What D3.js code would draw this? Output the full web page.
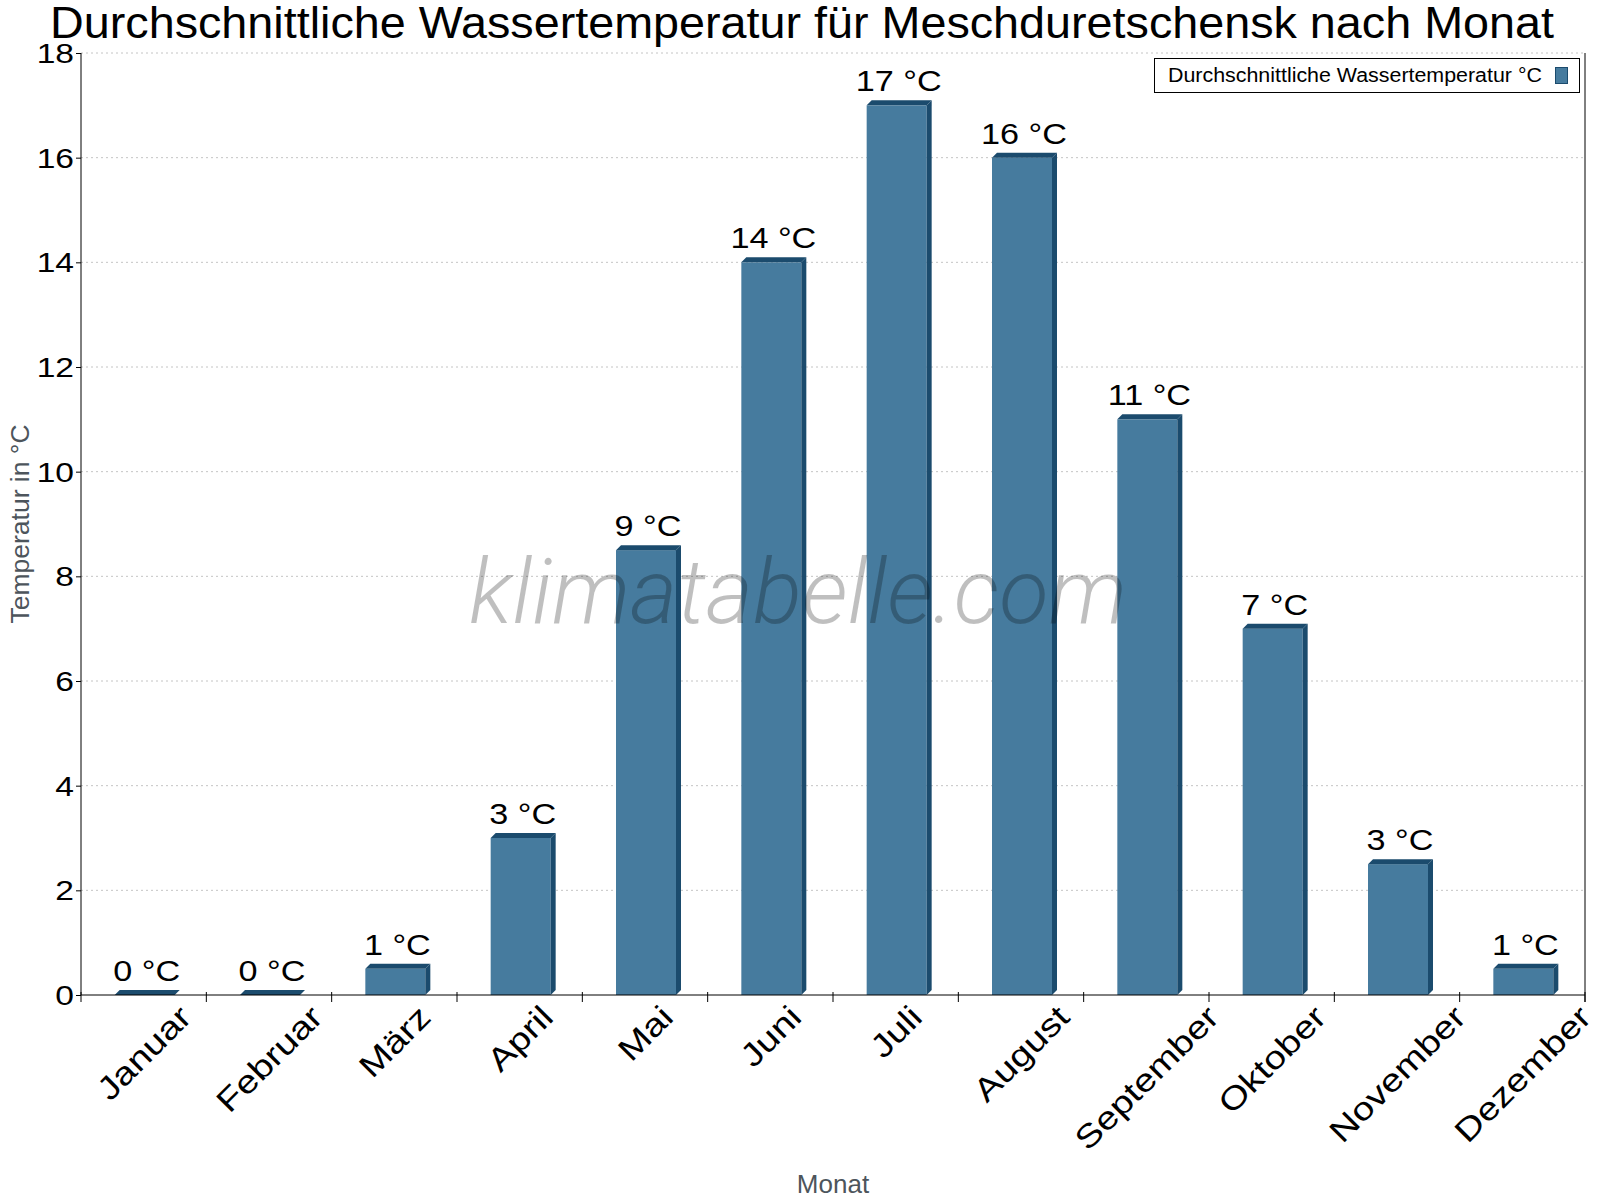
<!DOCTYPE html>
<html><head><meta charset="utf-8">
<script src="https://cdn.jsdelivr.net/npm/d3@7"></script>
<style>body{margin:0;background:#fff}</style>
</head><body>
<svg id="c" width="1600" height="1200"></svg>
<script>
const months = ["Januar","Februar","März","April","Mai","Juni","Juli","August","September","Oktober","November","Dezember"];
const waterTemp = [0, 0, 0.5, 3, 8.5, 14, 17, 16, 11, 7, 2.5, 0.5];
const yTicks = [0,2,4,6,8,10,12,14,16,18];
const titleText = "Durchschnittliche Wassertemperatur für Meschduretschensk nach Monat";
const seriesName = "Durchschnittliche Wassertemperatur °C";
const yTitle = "Temperatur in °C";
const xTitle = "Monat";
const watermark = "klimatabelle.com";

const svg = d3.select("#c");
const font = "'Liberation Sans', Arial, sans-serif";
const L = 81, R = 1585, T = 53, B = 995;
const front = "#467b9e", dark = "#1b4b6d";
const depth = 5;

const x = d3.scaleBand().domain(months).range([L, R]).paddingInner(0).paddingOuter(0);
const y = d3.scaleLinear().domain([0, 18]).range([B, T]);

// helper: text stretched horizontally around its anchor
function stext(parent, px, py, str, fs, sx, anchor, fill) {
  return parent.append("text")
    .attr("transform", `translate(${px},${py}) scale(${sx},1)`)
    .attr("text-anchor", anchor || "start")
    .attr("font-family", font).attr("font-size", fs).attr("fill", fill || "#000")
    .text(str);
}

// grid
svg.append("g").selectAll("line").data(yTicks.filter(d => d > 0)).join("line")
  .attr("x1", L).attr("x2", R).attr("y1", d => y(d)).attr("y2", d => y(d))
  .attr("stroke", "#c4c4c4").attr("stroke-dasharray", "2,3").attr("stroke-width", 1);

// bars
const bw = 60;
const data = months.map((m, i) => ({m, v: waterTemp[i]}));
const bars = svg.append("g").selectAll("g").data(data).join("g");
bars.each(function(d) {
  const g = d3.select(this);
  const cx = x(d.m) + x.bandwidth() / 2 + 1;
  const x0 = cx - bw / 2, x1 = cx + bw / 2;
  const yt = y(d.v), yb = y(0);
  if (yb - yt > 0) {
    g.append("rect").attr("x", x0).attr("y", yt).attr("width", bw).attr("height", yb - yt).attr("fill", front);
  }
  g.append("polygon").attr("points", [[x1, yb], [x1 + depth, yb - depth], [x1 + depth, yt - depth], [x1, yt]].join(" ")).attr("fill", dark);
  g.append("polygon").attr("points", [[x0, yt], [x0 + depth, yt - depth], [x1 + depth, yt - depth], [x1, yt]].join(" ")).attr("fill", dark);
});
// value labels
const vl = svg.append("g");
data.forEach(d => {
  stext(vl, x(d.m) + x.bandwidth() / 2 + 3, y(d.v) - 14, Math.round(d.v) + " °C", 30, 1.14, "middle");
});

// watermark (on top of bars)
const wm = svg.append("text").attr("x", 798).attr("y", 623).attr("text-anchor", "middle")
  .attr("font-family", "Roboto, 'Liberation Sans', sans-serif").attr("font-weight", 300)
  .attr("font-style", "italic").attr("font-size", 90)
  .attr("fill", "#000").attr("fill-opacity", 0.25).text(watermark);
const wmLen = wm.node().getComputedTextLength();
wm.attr("font-size", 90 * 658 / wmLen);

// y axis
const yAxis = d3.axisLeft(y).tickValues(yTicks).tickSize(5).tickFormat("");
const ga = svg.append("g").attr("transform", `translate(${L},0)`).call(yAxis);
ga.select(".domain").attr("stroke", "#000").attr("d", `M0,${T}V${B}`);
const yl = svg.append("g");
yTicks.forEach(t => stext(yl, 74, y(t) + 10, String(t), 28, 1.2, "end"));

svg.append("line").attr("x1", R).attr("x2", R).attr("y1", T).attr("y2", B + 7).attr("stroke", "#000");

// x axis
const xAxis = d3.axisBottom(x).tickSize(0).tickFormat("");
const gx = svg.append("g").attr("transform", `translate(0,${B})`).call(xAxis);
gx.select(".domain").attr("stroke", "#000").attr("d", `M${L},0H${R}`);
const bounds = d3.range(months.length + 1).map(i => L + i * x.bandwidth());
svg.append("g").selectAll("line").data(bounds).join("line")
  .attr("x1", d => d).attr("x2", d => d).attr("y1", B - 3).attr("y2", B + 7).attr("stroke", "#000");

// x labels: rotated -45, bounding box centred on band, top just under the axis
const xfs = 32, xsx = 1.2, capH = 0.716 * xfs;
const xl = svg.append("g");
months.forEach(m => {
  const g = xl.append("g");
  const t = g.append("text").attr("text-anchor", "middle").attr("dy", capH / 2)
    .attr("font-family", font).attr("font-size", xfs).attr("fill", "#000").text(m);
  const w = t.node().getComputedTextLength() * xsx;
  const cy = B + 8 + (w + capH) * 0.3536;
  g.attr("transform", `translate(${x(m) + x.bandwidth() / 2},${cy}) rotate(-45) scale(${xsx},1)`);
});

// axis titles
svg.append("text").attr("transform", `translate(29,${(T + B) / 2}) rotate(-90) scale(1.06,1)`).attr("text-anchor", "middle")
  .attr("font-family", font).attr("font-size", 25).attr("fill", "#4d555c").text(yTitle);
svg.append("text").attr("x", (L + R) / 2).attr("y", 1193).attr("text-anchor", "middle")
  .attr("font-family", font).attr("font-size", 26).attr("fill", "#4d555c").text(xTitle);

// title
stext(svg, 802, 38, titleText, 45, 1.038, "middle");

// legend
const lg = svg.append("g");
lg.append("rect").attr("x", 1154.5).attr("y", 58.5).attr("width", 425).attr("height", 34).attr("fill", "#fff").attr("stroke", "#000");
stext(lg, 1168, 82, seriesName, 20, 1.07, "start");
lg.append("rect").attr("x", 1555.5).attr("y", 67.5).attr("width", 12).attr("height", 16).attr("fill", front).attr("stroke", dark);
</script>
</body></html>
